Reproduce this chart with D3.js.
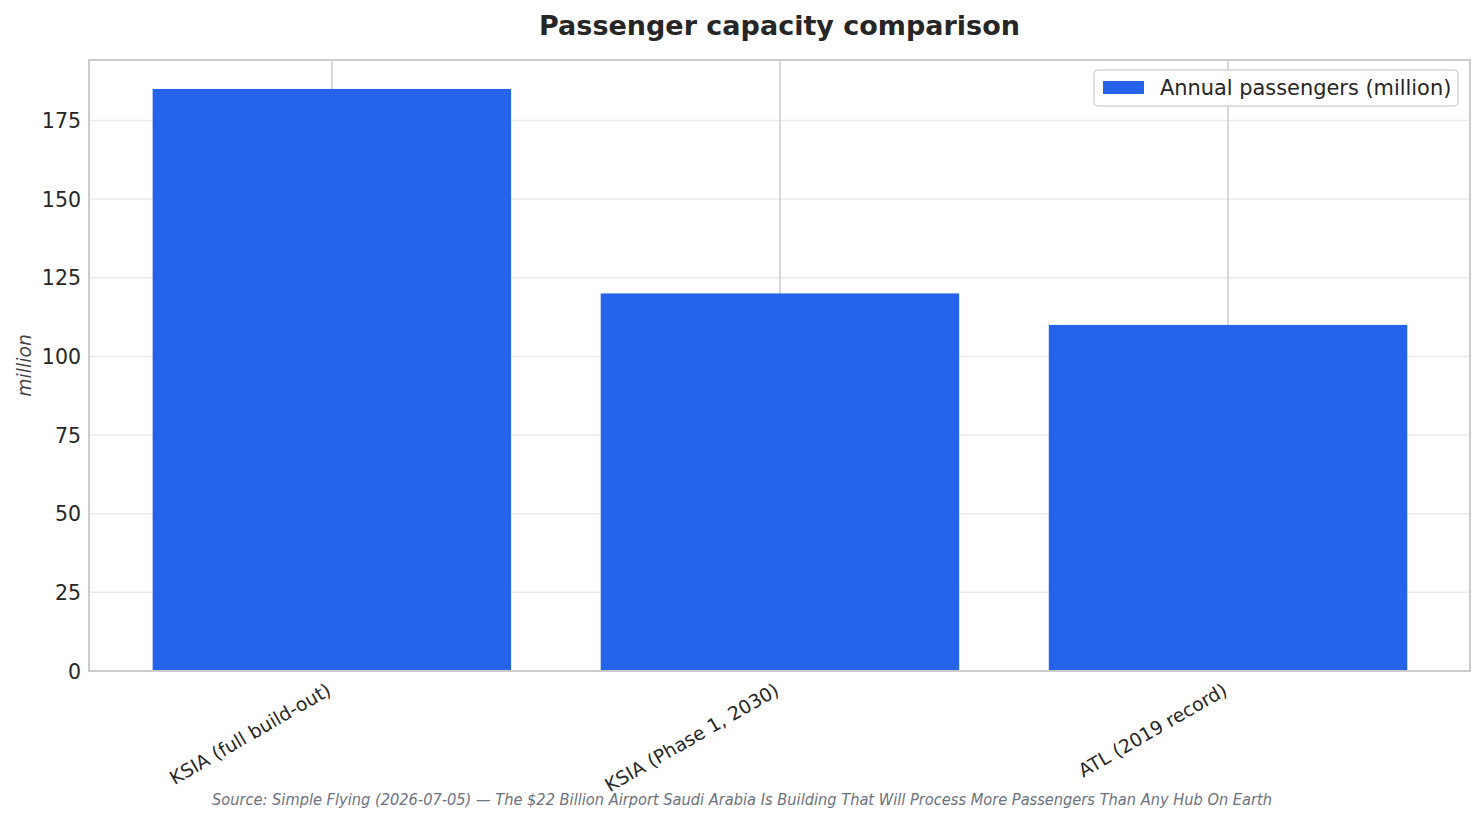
<!DOCTYPE html>
<html>
<head>
<meta charset="utf-8">
<script src="https://cdn.jsdelivr.net/npm/d3@7"></script>
<style>
  body { margin: 0; background: #fff; }
  svg { display: block; font-family: "DejaVu Sans", sans-serif; }
</style>
</head>
<body>
<svg id="chart" width="1484" height="823"></svg>
<script>
// data
var categories = ["KSIA (full build-out)", "KSIA (Phase 1, 2030)", "ATL (2019 record)"];
var passengers = [185, 120, 110];
var yTicks = [0, 25, 50, 75, 100, 125, 150, 175];
var seriesName = "Annual passengers (million)";

var W = 1484, H = 823;
var m = {left: 89, right: 1470, top: 60, bottom: 671};
var barColor = "#2563eb";

var svg = d3.select("#chart");

var x = d3.scaleLinear().domain([-0.542, 2.54]).range([m.left, m.right]);
var y = d3.scaleLinear().domain([0, 194.2]).range([m.bottom, m.top]);
var barW = x(0.8) - x(0);

// horizontal grid
svg.append("g").selectAll("line").data(yTicks).enter().append("line")
	.attr("x1", m.left).attr("x2", m.right)
	.attr("y1", function(d){ return y(d); }).attr("y2", function(d){ return y(d); })
	.attr("stroke", "#ebebeb").attr("stroke-width", 1.5);

// vertical grid at categories (drawn under bars)
svg.append("g").selectAll("line").data(categories).enter().append("line")
	.attr("x1", function(d, i){ return x(i); }).attr("x2", function(d, i){ return x(i); })
	.attr("y1", m.top).attr("y2", m.bottom)
	.attr("stroke", "#cccccc").attr("stroke-width", 1.5);

// bars
svg.append("g").selectAll("rect").data(passengers).enter().append("rect")
	.attr("x", function(d, i){ return x(i) - barW/2; })
	.attr("width", barW)
	.attr("y", function(d){ return y(d); })
	.attr("height", function(d){ return y(0) - y(d); })
	.attr("fill", barColor);

// frame
svg.append("rect")
	.attr("x", m.left).attr("y", m.top)
	.attr("width", m.right - m.left).attr("height", m.bottom - m.top)
	.attr("fill", "none").attr("stroke", "#cccccc").attr("stroke-width", 2);

// y axis labels
var yAxis = d3.axisLeft(y).tickValues(yTicks).tickSize(0).tickPadding(8);
var gy = svg.append("g").attr("transform", "translate(" + m.left + ",0)").call(yAxis);
gy.select(".domain").remove();
gy.selectAll("text").attr("font-size", 20.5).attr("fill", "#262626")
	.attr("font-family", "DejaVu Sans, sans-serif").attr("dy", "0.35em");

// x axis labels
var xAxis = d3.axisBottom(x).tickValues([0, 1, 2]).tickSize(0)
	.tickFormat(function(d){ return categories[d]; });
var gx = svg.append("g").attr("transform", "translate(0," + m.bottom + ")").call(xAxis);
gx.select(".domain").remove();
gx.selectAll("text")
	.attr("font-size", 18.8).attr("fill", "#262626")
	.attr("font-family", "DejaVu Sans, sans-serif")
	.attr("text-anchor", "end")
	.attr("dy", 0).attr("y", 0)
	.attr("transform", "translate(0,23) rotate(-30)");

// y label
svg.append("text")
	.attr("transform", "translate(31," + ((m.top + m.bottom)/2) + ") rotate(-90)")
	.attr("text-anchor", "middle")
	.attr("font-size", 18.8).attr("font-style", "italic").attr("fill", "#444")
	.text("million");

// title
svg.append("text")
	.attr("x", (m.left + m.right)/2).attr("y", 35)
	.attr("text-anchor", "middle")
	.attr("font-size", 27).attr("font-weight", "bold").attr("fill", "#262626")
	.text("Passenger capacity comparison");

// legend
var lg = svg.append("g").attr("transform", "translate(1094,70)");
lg.append("rect").attr("width", 364).attr("height", 36).attr("rx", 4)
	.attr("fill", "#fff").attr("fill-opacity", 0.85)
	.attr("stroke", "#d4d4d4").attr("stroke-width", 1.5);
lg.append("rect").attr("x", 9).attr("y", 11).attr("width", 41).attr("height", 13)
	.attr("fill", barColor);
lg.append("text").attr("x", 66).attr("y", 25)
	.attr("font-size", 20.9).attr("fill", "#262626")
	.text(seriesName);

// source
svg.append("text")
	.attr("x", 742).attr("y", 805)
	.attr("text-anchor", "middle")
	.attr("font-size", 15).attr("font-style", "italic").attr("fill", "#6b7280")
	.attr("textLength", 1060).attr("lengthAdjust", "spacingAndGlyphs")
	.text("Source: Simple Flying (2026-07-05) \u2014 The $22 Billion Airport Saudi Arabia Is Building That Will Process More Passengers Than Any Hub On Earth");
</script>
</body>
</html>
